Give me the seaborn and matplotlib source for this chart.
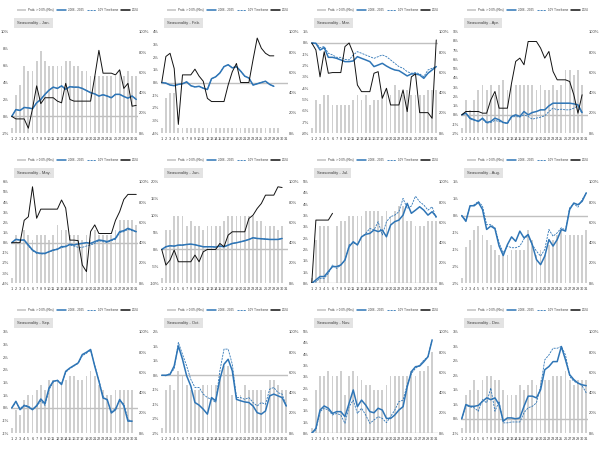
import numpy as np
import pandas as pd
import matplotlib
matplotlib.use("Agg")
import matplotlib.pyplot as plt
import seaborn as sns
from matplotlib.lines import Line2D
from matplotlib.patches import Patch

# === Data ===
months = ["Jan.", "Feb.", "Mar.", "Apr.", "May.", "Jun.", "Jul.", "Aug.", "Sep.", "Oct.", "Nov.", "Dec."]
day_labels = [str(d) for d in range(1, 32)]

jan_prob = [5, 38, 48, 66, 61, 61, 71, 81, 71, 66, 66, 66, 66, 71, 71, 66, 66, 61, 61, 56, 56, 56, 56, 56, 56, 56, 61, 56, 61, 56, 56]
jan_all = [0, 0.8, 0.7, 1.05, 1.0, 0.9, 1.6, 2.0, 2.6, 3.1, 3.45, 3.3, 3.6, 3.2, 3.5, 3.45, 3.45, 3.3, 3.05, 2.8, 2.65, 2.4, 2.55, 2.4, 2.2, 2.6, 2.6, 2.35, 2.15, 2.4, 2.0]
jan_10y = [0, 0.8, 0.7, 1.05, 1.0, 0.9, 1.6, 2.0, 2.6, 3.1, 3.45, 3.3, 3.6, 3.2, 3.5, 3.45, 3.45, 3.3, 3.05, 2.8, 2.65, 2.4, 2.55, 2.4, 2.2, 2.6, 2.6, 2.35, 2.15, 2.4, 2.0]
jan_2024 = [0, -0.3, -0.3, -0.3, -1.4, 0.9, 3.6, 1.5, 2.2, 2.2, 2.2, 1.8, 1.6, 3.9, 2.0, 1.8, 1.8, 1.8, 1.8, 1.8, 4.7, 7.8, 5.1, 5.1, 5.1, 4.9, 5.5, 3.3, 3.9, 1.2, 1.3]

feb_prob = [5, 35, 40, 40, 5, 5, 5, 5, 5, 5, 5, 5, 5, 5, 5, 5, 5, 5, 5, 5, 5, 5, 5, 5, 5, 5, 5, 5, 5]
feb_all = [0, -0.05, -0.2, -0.25, -0.15, -0.1, 0.05, -0.25, -0.35, -0.3, -0.45, -0.55, 0.3, 0.45, 0.75, 1.25, 1.4, 1.15, 1.25, 0.9, 0.5, 0.35, -0.2, -0.1, 0, 0.1, -0.15, -0.3]
feb_10y = [0, -0.05, -0.2, -0.25, -0.15, -0.1, 0.05, -0.25, -0.35, -0.3, -0.45, -0.55, 0.3, 0.45, 0.75, 1.25, 1.4, 1.15, 1.25, 0.9, 0.5, 0.35, -0.2, -0.1, 0, 0.1, -0.15, -0.3]
feb_2024 = [0, 2.05, 2.3, 1.1, -3.3, 0.6, 0.6, 0.6, 1.05, 0.5, 0.1, -1.25, -1.5, -1.5, -1.5, -1.5, -0.2, 0.85, 1.5, 0, 0, 0, 1.8, 3.5, 2.7, 2.3, 2.1, 2.1]

mar_prob = [5, 33, 29, 38, 38, 28, 28, 28, 28, 28, 33, 38, 33, 38, 28, 33, 33, 38, 43, 38, 48, 43, 38, 43, 38, 38, 38, 38, 43, 43, 43]
mar_all = [0, -0.03, -0.62, -0.41, -1.27, -1.27, -1.36, -1.5, -1.65, -1.65, -1.59, -1.21, -1.36, -1.5, -1.65, -2.09, -1.95, -1.8, -2.04, -2.24, -2.39, -2.45, -2.68, -2.92, -2.74, -2.74, -2.83, -3.13, -2.68, -2.39, -2.09]
mar_10y = [0, -0.03, -0.41, -0.32, -0.91, -1.06, -1.27, -1.27, -1.45, -1.5, -1.06, -0.77, -0.91, -1.06, -1.21, -1.36, -1.21, -1.06, -1.21, -1.5, -1.8, -2.09, -2.24, -2.54, -2.68, -2.62, -2.74, -2.98, -2.39, -2.24, -2.09]
mar_2024 = [0, -0.62, -3.0, -0.77, -2.68, -2.62, -2.62, -2.62, -0.32, 0, -0.91, -3.72, -4.31, -4.31, -4.31, -2.68, -2.54, -4.9, -4.01, -5.49, -5.49, -5.49, -4.16, -6.08, -3.0, -2.74, -6.17, -6.17, -6.17, -6.67, 0.27]

apr_prob = [5, 33, 23, 33, 43, 48, 43, 48, 38, 48, 52, 43, 48, 48, 48, 48, 48, 48, 43, 48, 43, 43, 48, 43, 48, 62, 62, 57, 62, 48]
apr_all = [0, 0.18, -0.36, -0.54, -0.72, -0.36, -0.83, -0.72, -0.36, -0.54, -0.83, -0.9, -0.18, 0, -0.18, 0.36, 0, 0.25, 0.36, 0.54, 0.54, 0.97, 1.26, 1.26, 1.26, 1.26, 1.26, 1.19, 1.08, 0.25]
apr_10y = [0, 0.18, -0.47, -0.61, -0.61, -0.47, -0.9, -0.83, -0.61, -0.72, -0.83, -0.97, -0.25, -0.18, -0.25, 0, -0.18, -0.47, -0.36, -0.25, -0.11, 0.36, 0.72, 0.54, 0.61, 0.54, 0.54, 0.72, 0.97, 0.11]
apr_2024 = [0, 0.36, 0.36, 0.36, 0.36, 0.18, 0.18, 1.62, 2.53, 0.72, 0.72, 0.72, 3.43, 5.78, 6.14, 5.42, 7.94, 7.94, 7.94, 7.22, 6.14, 6.86, 4.69, 3.79, 3.79, 3.79, 3.61, 2.17, 0.18, 2.17]

may_prob = [5, 48, 43, 52, 48, 43, 48, 48, 48, 43, 48, 57, 52, 52, 48, 48, 48, 43, 48, 43, 52, 48, 48, 48, 48, 52, 62, 62, 62, 62, 57]
may_all = [0, 0.33, 0.26, 0.26, -0.23, -0.72, -0.98, -1.05, -1.05, -0.89, -0.72, -0.66, -0.39, -0.39, -0.16, -0.23, -0.13, -0.07, 0, -0.07, 0.1, 0.26, 0.2, 0.1, 0.26, 0.43, 1.08, 1.18, 1.41, 1.25, 1.08]
may_10y = [0, 0.33, 0.2, 0.26, -0.33, -0.79, -1.05, -1.11, -1.11, -0.89, -0.79, -0.59, -0.52, -0.33, -0.23, -0.33, -0.46, -0.46, -0.33, -0.23, -0.07, 0.2, 0.1, 0, 0.2, 0.33, 0.98, 1.08, 1.31, 1.18, 1.05]
may_2024 = [0, 0, 0, 2.2, 2.55, 5.5, 2.4, 3.3, 3.3, 3.3, 3.3, 3.3, 4.2, 3.4, 0.25, 0.25, 0.2, -2.2, -2.85, 1.1, 1.75, 0.9, 0.9, 0.9, 0.9, 2.2, 3.05, 4.25, 4.75, 4.75, 4.75]

jun_prob = [5, 52, 52, 66, 66, 66, 56, 61, 56, 56, 52, 56, 56, 56, 56, 61, 66, 66, 66, 66, 66, 66, 66, 61, 61, 56, 56, 56, 52, 56]
jun_all = [0, 0.79, 1.08, 0.98, 1.28, 1.28, 1.47, 1.57, 1.38, 1.08, 0.79, 0.79, 0.79, 0.69, 0.98, 0.79, 1.28, 1.77, 1.97, 2.26, 2.56, 2.95, 3.44, 3.24, 3.15, 3.05, 2.95, 2.95, 2.95, 3.24]
jun_10y = [0, 0.79, 1.08, 0.98, 1.28, 1.28, 1.47, 1.57, 1.38, 1.08, 0.79, 0.79, 0.79, 0.69, 0.98, 0.79, 1.28, 1.77, 1.97, 2.26, 2.56, 2.95, 3.44, 3.24, 3.15, 3.05, 2.95, 2.95, 2.95, 3.24]
jun_2024 = [0, -4.62, -3.15, -0.2, -3.64, -3.64, -3.64, -3.64, -1.67, -3.64, -0.69, 0, 0, 0, 1.77, 0.79, 4.23, 5.21, 5.21, 5.21, 5.21, 9.14, 10.13, 12.09, 13.57, 16.03, 16.03, 16.03, 18.49, 18.29]

jul_prob = [5, 43, 56, 56, 56, 0, 56, 61, 61, 66, 66, 66, 66, 71, 71, 71, 71, 66, 71, 66, 71, 76, 76, 61, 61, 56, 56, 56, 61, 61, 61]
jul_all = [0, 0.15, 0.3, 0.3, 0.52, 0.74, 0.74, 0.81, 1.03, 1.62, 1.84, 1.7, 2.06, 2.17, 2.21, 2.36, 2.29, 2.36, 2.06, 2.58, 2.73, 2.8, 3.02, 3.54, 3.1, 3.24, 3.39, 3.24, 3.02, 3.17, 2.95]
jul_10y = [0, 0.07, 0.22, 0.22, 0.44, 0.81, 0.66, 0.81, 1.03, 1.7, 1.8, 1.7, 2.04, 2.21, 2.43, 2.36, 2.73, 2.14, 2.73, 2.95, 3.02, 3.17, 3.76, 3.32, 3.42, 3.86, 3.61, 3.47, 3.24, 3.39, 2.88]
jul_2024 = [0, 2.8, 2.8, 2.8, 2.8, 3.1]

aug_prob = [5, 36, 43, 52, 56, 48, 43, 38, 33, 28, 28, 28, 33, 33, 33, 33, 52, 43, 28, 33, 28, 38, 43, 48, 52, 48, 48, 48, 48, 48, 52]
aug_all = [0, -0.17, 0.29, 0.29, 0.39, 0.18, -0.41, -0.31, -0.39, -0.9, -1.18, -0.86, -0.63, -0.76, -0.46, -0.66, -0.56, -0.86, -1.3, -1.45, -1.2, -0.71, -0.9, -0.71, -0.41, -0.46, 0.18, 0.37, 0.32, 0.42, 0.67]
aug_10y = [0, -0.14, 0.28, 0.32, 0.42, 0.28, -0.27, -0.27, -0.36, -0.81, -1.1, -0.9, -0.95, -0.95, -0.9, -0.69, -0.59, -0.86, -1.05, -1.2, -1.0, -0.41, -0.61, -0.51, -0.36, -0.43, 0.23, 0.35, 0.25, 0.47, 0.67]
aug_2024 = []

sep_prob = [5, 23, 18, 33, 38, 38, 43, 48, 43, 52, 52, 52, 48, 52, 56, 56, 52, 52, 56, 61, 56, 48, 43, 38, 38, 43, 43, 43, 43, 43]
sep_all = [0, 0.26, -0.07, 0.09, 0.04, -0.07, 0.09, 0.35, 0.17, 0.79, 1.05, 1.08, 0.92, 1.44, 1.57, 1.67, 1.77, 2.1, 2.19, 2.3, 1.64, 1.05, 0.39, 0.33, -0.2, -0.07, 0.33, 0.09, -0.52, -0.52]
sep_10y = [0, 0.22, -0.03, 0.12, 0.07, -0.04, 0.05, 0.28, 0.1, 0.72, 1.02, 1.1, 0.95, 1.4, 1.55, 1.65, 1.75, 2.05, 2.15, 2.27, 1.68, 1.1, 0.45, 0.3, -0.15, -0.03, 0.3, 0.15, -0.45, -0.55]
sep_2024 = []

oct_prob = [5, 43, 48, 43, 61, 56, 48, 43, 43, 43, 48, 48, 48, 48, 56, 66, 66, 38, 38, 38, 48, 43, 43, 43, 43, 43, 52, 52, 48, 43, 43]
oct_all = [0, 0, 0.03, 0.32, 1.01, 0.55, -0.02, -0.37, -0.94, -1.03, -1.17, -1.34, -0.77, -0.88, -0.14, 0.38, 0.55, 0.15, -0.83, -0.88, -0.92, -0.94, -1.06, -1.29, -1.34, -1.23, -0.71, -0.65, -0.71, -0.77, -1.06]
oct_10y = [0, -0.02, 0.07, 0.21, 1.13, 0.72, 0.32, -0.14, -0.42, -0.42, -0.65, -0.77, -0.83, -0.94, 0.15, 0.9, 0.9, 0.38, -0.77, -0.77, -0.83, -0.77, -0.94, -1.06, -0.94, -1.0, -0.48, -0.42, -0.6, -0.65, -1.06]
oct_2024 = []

nov_prob = [5, 43, 56, 56, 61, 56, 56, 61, 38, 56, 61, 56, 52, 48, 48, 43, 43, 43, 48, 56, 56, 56, 56, 56, 61, 56, 61, 61, 66, 80]
nov_all = [0, 0.22, 1.03, 1.21, 1.11, 0.88, 0.96, 0.96, 0.74, 1.33, 1.92, 1.18, 1.47, 1.25, 0.96, 0.91, 1.11, 1.03, 0.66, 0.66, 0.81, 1.03, 1.18, 2.06, 2.73, 2.95, 2.98, 3.17, 3.39, 4.13]
nov_10y = [0, 0.15, 0.96, 1.11, 1.03, 0.81, 0.88, 0.81, 0.44, 1.18, 1.47, 0.88, 1.11, 0.81, 0.44, 0.59, 0.74, 0.66, 0.47, 0.74, 1.03, 1.4, 1.47, 2.14, 2.65, 2.88, 3.02, 3.24, 3.39, 4.16]
nov_2024 = []

dec_prob = [5, 38, 43, 52, 43, 52, 56, 56, 52, 52, 43, 38, 38, 38, 48, 43, 48, 52, 48, 52, 52, 52, 56, 56, 56, 61, 52, 48, 52, 52, 52]
dec_all = [0, 0.49, 0.43, 0.43, 0.46, 0.6, 0.72, 0.66, 0.72, 0.49, -0.08, 0.03, 0.03, 0, 0.03, 0.43, 0.78, 0.78, 0.72, 1.0, 1.69, 1.8, 1.97, 1.97, 2.49, 2.03, 1.52, 1.35, 1.23, 1.17, 1.14]
dec_10y = [0, 0.46, 0.41, 0.38, 0.26, 0.66, 0.55, 1.06, 0.26, 0.6, -0.14, -0.14, -0.11, -0.11, -0.11, 0.21, 0.38, 0.43, 0.55, 1.12, 2.03, 2.2, 2.43, 2.43, 2.49, 2.2, 1.46, 1.29, 1.23, 1.14, 0.89]
dec_2024 = []

# left-axis ticks per month (%)
left_ticks = [
    np.arange(-2, 10.1, 2), np.arange(-4, 4.1, 1), np.arange(-8, 1.1, 1), np.arange(-2, 9.1, 1),
    np.arange(-4, 6.1, 1), np.arange(-10, 20.1, 5), np.arange(0, 4.51, 0.5), np.arange(-2, 1.01, 0.5),
    np.arange(-1, 3.01, 0.5), np.arange(-2, 1.51, 0.5), np.arange(0, 4.51, 0.5), np.arange(-0.5, 3.01, 0.5),
]

panels = [
    (jan_prob, jan_all, jan_10y, jan_2024), (feb_prob, feb_all, feb_10y, feb_2024),
    (mar_prob, mar_all, mar_10y, mar_2024), (apr_prob, apr_all, apr_10y, apr_2024),
    (may_prob, may_all, may_10y, may_2024), (jun_prob, jun_all, jun_10y, jun_2024),
    (jul_prob, jul_all, jul_10y, jul_2024), (aug_prob, aug_all, aug_10y, aug_2024),
    (sep_prob, sep_all, sep_10y, sep_2024), (oct_prob, oct_all, oct_10y, oct_2024),
    (nov_prob, nov_all, nov_10y, nov_2024), (dec_prob, dec_all, dec_10y, dec_2024),
]

# === Style ===
sns.set_theme(style="white")
plt.rcParams["font.family"] = ["Liberation Sans Narrow", "Liberation Sans", "DejaVu Sans"]

BAR = "#cfcfcf"
BLUE = "#2e75b6"
BLACK = "#111111"
ZERO = "#c0c0c0"
FS = 3.0
DASH = (0, (2.5, 1.2))


def excel_pct(v, pos=None):
    r = int(np.floor(abs(v) + 0.5 + 1e-9))
    if r == 0:
        return "0%"
    return ("-" if v < 0 else "") + f"{r}%"


fig = plt.figure(figsize=(6, 4.5), dpi=100)
W, H = 600, 450

for i, (month, data, ticks) in enumerate(zip(months, panels, left_ticks)):
    prob, all_yrs, ten_y, y2024 = data
    row, col = divmod(i, 4)
    x0 = col * 150 + 10.5
    top = row * 150 + 31.7
    ax = fig.add_axes([x0 / W, 1 - (top + 101.6) / H, 127 / W, 101.6 / H])
    ax2 = ax.twinx()

    # bars (right axis)
    bars = pd.DataFrame({"day": np.arange(1, len(prob) + 1), "prob": prob})
    sns.barplot(data=bars, x="day", y="prob", ax=ax2, native_scale=True,
                color=BAR, saturation=1, width=0.42, errorbar=None, linewidth=0)

    # lines (left axis)
    ax.axhline(0, color=ZERO, lw=1.0, zorder=1)
    sns.lineplot(x=np.arange(1, len(all_yrs) + 1), y=all_yrs, ax=ax, color=BLUE, lw=1.1, zorder=3)
    sns.lineplot(x=np.arange(1, len(ten_y) + 1), y=ten_y, ax=ax, color=BLUE, lw=0.6,
                 linestyle=DASH, zorder=3)
    if len(y2024):
        sns.lineplot(x=np.arange(1, len(y2024) + 1), y=y2024, ax=ax, color=BLACK, lw=0.7, zorder=4)

    ax.set_zorder(ax2.get_zorder() + 1)
    ax.patch.set_visible(False)

    ax.set_xlim(0.7, 31.3)
    ax.set_ylim(ticks[0], ticks[-1])
    ax.set_yticks(ticks)
    ax.yaxis.set_major_formatter(plt.FuncFormatter(excel_pct))
    ax2.set_ylim(0, 100)
    ax2.set_yticks(range(0, 101, 20))
    ax2.set_yticklabels([f"{v}%" for v in range(0, 101, 20)])
    ax.set_xticks(range(1, 32))
    ax.set_xticklabels(day_labels)
    for a in (ax, ax2):
        a.set_xlabel("")
        a.set_ylabel("")
        a.grid(False)
        for s in a.spines.values():
            s.set_visible(False)
        a.tick_params(length=0, labelsize=FS, pad=1.2, colors="#404040")
    ax.tick_params(axis="x", pad=2.5, labelsize=2.8)

    # title box
    ax.text(0.05, 1.085, f"Seasonality - {month}", transform=ax.transAxes, fontsize=FS,
            ha="left", va="center", color="#404040",
            bbox=dict(boxstyle="square,pad=0.8", facecolor="#e3e3e3", edgecolor="none"))

    # legend
    handles = [
        Patch(facecolor=BAR, edgecolor="none"),
        Line2D([], [], color=BLUE, lw=1.1),
        Line2D([], [], color=BLUE, lw=0.6, linestyle=DASH),
        Line2D([], [], color=BLACK, lw=1.1),
    ]
    labels = ["Prob. > 0.0% (Rhs)", "2006 - 2025", "10Y Timeframe", "2024"]
    ax.legend(handles, labels, loc="center", bbox_to_anchor=(0.53, 1.215), ncol=4,
              fontsize=2.2, frameon=False, handlelength=3.0, handleheight=0.9,
              handletextpad=0.5, columnspacing=1.1, labelcolor="#404040", borderaxespad=0)

fig.savefig("out.png", dpi=100)
plt.close(fig)
print("saved out.png")
